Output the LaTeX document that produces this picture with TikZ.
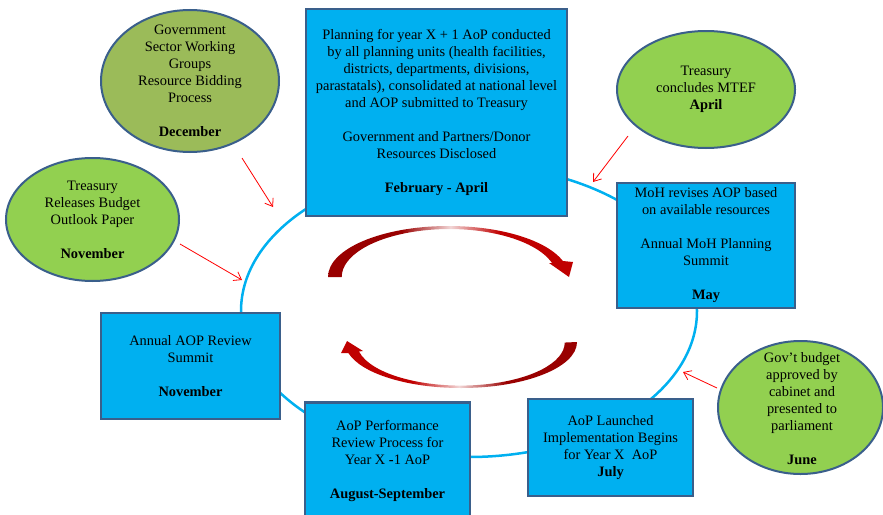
\documentclass[tikz,border=0pt]{standalone}
\usepackage{fontspec}
\setmainfont{Liberation Serif}
\usetikzlibrary{shapes.geometric,arrows.meta}
\definecolor{boxblue}{HTML}{00B0F0}
\definecolor{edgeblue}{HTML}{3A5F8B}
\definecolor{leafolive}{HTML}{9BBB59}
\definecolor{leafgreen}{HTML}{92D050}
\definecolor{arcdark}{HTML}{990000}
\definecolor{arcred}{HTML}{C00000}
\definecolor{arclight}{HTML}{F2D6D6}
\pgfdeclarehorizontalshading{arcshade}{100bp}{color(0bp)=(arcdark); color(40bp)=(arcdark); color(50bp)=(arclight); color(60bp)=(arcred); color(100bp)=(arcred)}

\begin{document}
\begin{tikzpicture}[x=1pt,y=-1pt,
    every node/.style={font=\fontsize{14.4}{17}\selectfont},
    stage/.style={draw=edgeblue, line width=2.5pt, fill=boxblue, align=center, inner sep=2pt},
    leaf/.style={ellipse, draw=edgeblue, line width=2pt, inner sep=0pt},
    ring/.style={boxblue, line width=2.5pt},
    feed/.style={red, line width=0.8pt, -{Straight Barb[length=7pt,width=10pt]}},
    turn/.style={shading=arcshade}]
    \useasboundingbox (0,0) rectangle (883,514);

    %cycle
    \draw[ring] (469,311) ellipse [x radius=228, y radius=146];

    %stages
    \node[stage, minimum width=261pt, minimum height=207pt] (plan) at (436.5,112.5) {Planning for year X + 1 AoP conducted\\ by all planning units (health facilities,\\ districts, departments, divisions,\\ parastatals), consolidated at national level\\ and AOP submitted to Treasury\\[17pt] Government and Partners/Donor\\ Resources Disclosed\\[17pt] \textbf{February - April}};
    \node[stage, minimum width=178pt, minimum height=125pt] (moh) at (706,245.5) {MoH revises AOP based\\ on available resources\\[17pt] Annual MoH Planning\\ Summit\\[17pt] \textbf{May}};
    \node[stage, minimum width=179pt, minimum height=106pt] (review) at (190.5,366) {Annual AOP Review\\ Summit\\[17pt] \textbf{November}};
    \node[stage, minimum width=165pt, minimum height=117pt] (perf) at (387.5,461) {AoP Performance\\ Review Process for\\ Year X \textbf{-}1 AoP\\[17pt] \textbf{August-September}};
    \node[stage, minimum width=165pt, minimum height=97pt] (launch) at (610.5,447.5) {AoP Launched\\ Implementation Begins\\ for Year X\ \ AoP\\ \textbf{July}};

    %budget events
    \node[leaf, fill=leafolive, minimum width=178pt, minimum height=142pt] (dec) at (190,81) {};
    \node[align=center] (decText) at (dec) {Government\\ Sector Working\\ Groups\\ Resource Bidding\\ Process\\[17pt] \textbf{December}};
    \node[leaf, fill=leafgreen, minimum width=173pt, minimum height=123pt] (nov) at (92.5,219.5) {};
    \node[align=center] (novText) at (nov) {Treasury\\ Releases Budget\\ Outlook Paper\\[17pt] \textbf{November}};
    \node[leaf, fill=leafgreen, minimum width=178pt, minimum height=117pt] (apr) at (706,89.5) {};
    \node[align=center] (aprText) at (apr) {Treasury\\ concludes MTEF\\ \textbf{April}};
    \node[leaf, fill=leafgreen, minimum width=165pt, minimum height=133pt] (jun) at (800.5,407.5) {};
    \node[align=center] (junText) at (802,409) {Gov’t budget\\ approved by\\ cabinet and\\ presented to\\ parliament\\[17pt] \textbf{June}};

    \coordinate (decFrom) at (242,158);
    \coordinate (decTo) at (273,207);
    \coordinate (novFrom) at (180,244);
    \coordinate (novTo) at (242,280);
    \coordinate (aprFrom) at (628,136);
    \coordinate (aprTo) at (593,182);
    \coordinate (junFrom) at (717,388);
    \coordinate (junTo) at (683,372);
    \draw[feed] (decFrom) -- (decTo);
    \draw[feed] (novFrom) -- (novTo);
    \draw[feed] (aprFrom) -- (aprTo);
    \draw[feed] (junFrom) -- (junTo);

    %turning arrows
    \shade[turn] (328,277) arc[start angle=180, end angle=341.7, x radius=120.5, y radius=51] -- (573,262) -- (569,277) -- (549,263) -- (552,263) arc[start angle=343, end angle=180, x radius=107.5, y radius=48] -- cycle;
    \shade[turn, shading angle=180] (577,342) arc[start angle=0, end angle=166, x radius=116, y radius=46] -- (341,353) -- (347,341) -- (363,351) -- (359,351.5) arc[start angle=168, end angle=0, x radius=104, y radius=43] -- cycle;
\end{tikzpicture}
\end{document}
